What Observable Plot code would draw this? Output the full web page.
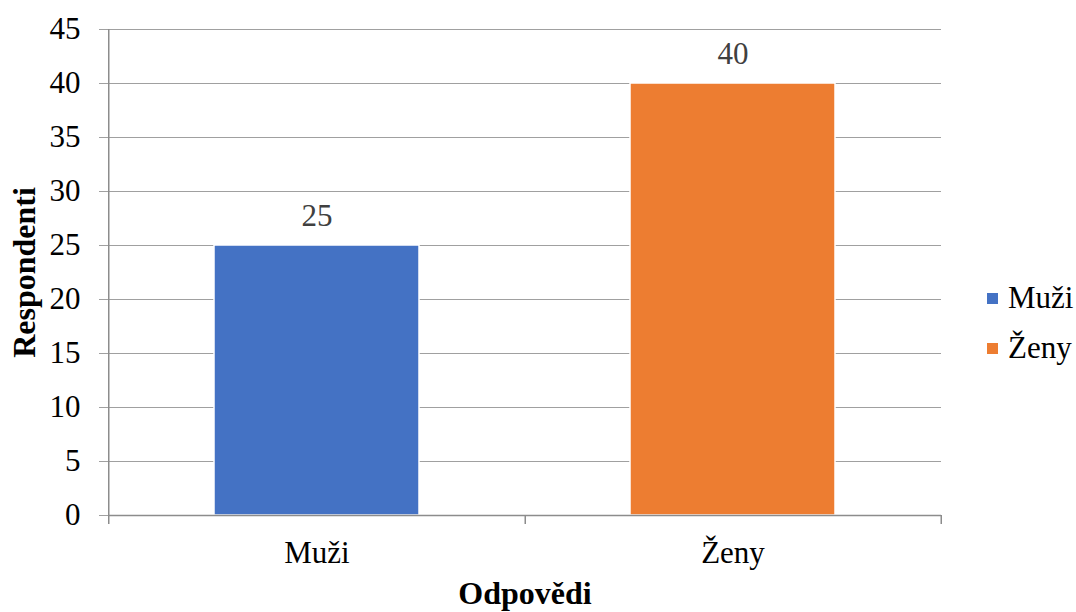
<!DOCTYPE html>
<html><head><meta charset="utf-8">
<script src="https://cdn.jsdelivr.net/npm/d3@7"></script>
<script src="https://cdn.jsdelivr.net/npm/@observablehq/plot@0.6"></script>
<style>
body{margin:0;background:#fff;font-family:"Liberation Serif","Times New Roman",serif;}
#wrap{position:relative;width:1076px;height:612px;overflow:hidden;}
#chart svg text{font-family:"Liberation Serif","Times New Roman",serif !important;font-variant:normal !important;}
#legend{position:absolute;left:987px;top:273px;font-size:31px;color:#000;}
.item{display:flex;align-items:center;height:50px;}
.sw{width:11px;height:11px;margin-right:10px;}
</style></head><body><div id="wrap"><div id="chart"></div><div id="legend"></div></div>
<script>
const categories = ["Muži", "Ženy"];
const values = [25, 40];
const colors = ["#4472C4", "#ED7D31"];
const yTicks = [0, 5, 10, 15, 20, 25, 30, 35, 40, 45];
const xTitle = "Odpovědi";
const yTitle = "Respondenti";

const data = categories.map((c, i) => ({cat: c, value: values[i]}));

const W = 960, H = 612, mL = 108, mR = 19, mT = 29, mB = 97;
const pi = 0.508, po = 0.254;
const step = (W - mL - mR) / (categories.length - pi + 2 * po);
const grid = "#a0a0a0", axis = "#8c8c8c";
const serif = "'Liberation Serif', 'Times New Roman', serif";

const chart = Plot.plot({
  width: W, height: H,
  marginLeft: mL, marginRight: mR, marginTop: mT, marginBottom: mB,
  style: {fontFamily: serif, fontSize: "31px", background: "#fff"},
  x: {domain: categories, paddingInner: pi, paddingOuter: po, label: null},
  y: {domain: [0, 45], label: null},
  color: {domain: categories, range: colors},
  marks: [
    Plot.gridY(yTicks, {stroke: grid, strokeOpacity: 1, strokeWidth: 1}),
    Plot.axisY(yTicks, {tickSize: 9, tickPadding: 19, stroke: grid, fill: "#000", fontSize: 31, fontFamily: serif, fontVariant: "normal", label: null}),
    Plot.axisX({tickSize: 0, tickPadding: 25, fill: "#000", fontSize: 31, fontFamily: serif, fontVariant: "normal", label: null}),
    Plot.barY(data, {x: "cat", y: "value", fill: "cat", stroke: "#fff", strokeWidth: 1.5}),
    Plot.ruleY([0], {stroke: axis, strokeWidth: 1.5}),
    Plot.ruleX([categories[0]], {y1: 45, y2: 0, dx: -step / 2, insetBottom: -9, stroke: axis, strokeWidth: 1.5}),
    Plot.ruleX(categories, {y1: 0, y2: 0, dx: step / 2, insetBottom: -9, stroke: axis, strokeWidth: 1.5}),
    Plot.text(data, {x: "cat", y: "value", text: d => String(d.value), dy: -29, fill: "#404040", fontSize: 31, fontFamily: serif, fontVariant: "normal"}),
    Plot.text([yTitle], {frameAnchor: "left", textAnchor: "middle", lineAnchor: "middle", rotate: -90, dx: -84, fontSize: 32, fontWeight: "bold", fontFamily: serif, fill: "#000"}),
    Plot.text([xTitle], {frameAnchor: "bottom", textAnchor: "middle", lineAnchor: "middle", dy: 78, fontSize: 32, fontWeight: "bold", fontFamily: serif, fill: "#000"})
  ]
});
document.getElementById("chart").appendChild(chart);

const legend = document.getElementById("legend");
categories.forEach((c, i) => {
  const item = document.createElement("div");
  item.className = "item";
  const sw = document.createElement("span");
  sw.className = "sw";
  sw.style.background = colors[i];
  const t = document.createElement("span");
  t.textContent = c;
  item.appendChild(sw);
  item.appendChild(t);
  legend.appendChild(item);
});
</script>
</body></html>
